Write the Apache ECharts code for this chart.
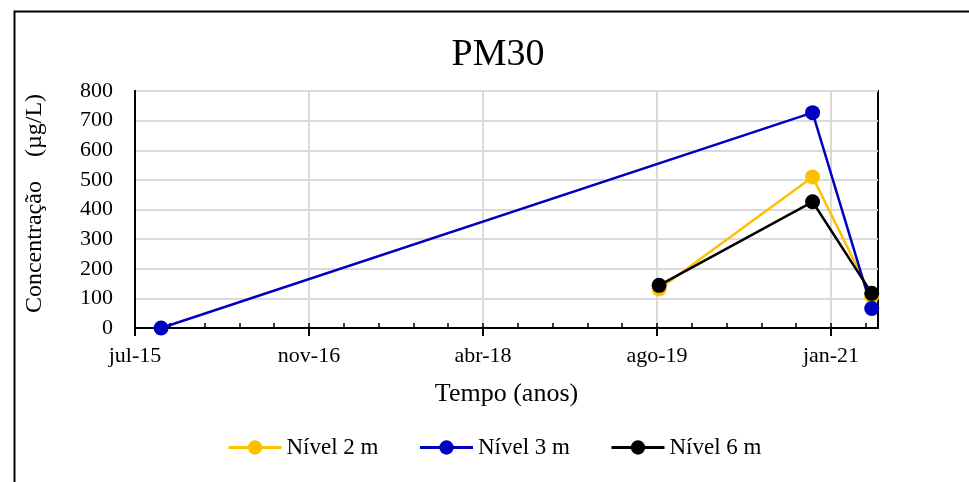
<!DOCTYPE html>
<html>
<head>
<meta charset="utf-8">
<script src="https://cdn.jsdelivr.net/npm/echarts@6/dist/echarts.min.js"></script>
<style>
html,body{margin:0;padding:0;background:#fff;}
#chart{width:969px;height:482px;}
</style>
</head>
<body>
<div id="chart"></div>
<script>
// ---- Data ----
var titleText = 'PM30';
var seriesNames = ['Nível 2 m', 'Nível 3 m', 'Nível 6 m'];
var dates2 = ['2019-08-30', '2020-11-13', '2021-05-02'];
var values2 = [132, 510, 107];
var dates3 = ['2015-09-29', '2020-11-13', '2021-05-02'];
var values3 = [0, 727, 66];
var dates6 = ['2019-08-30', '2020-11-13', '2021-05-02'];
var values6 = [144, 426, 117];
var axisStartDate = '2015-07-16';
var axisEndDate = '2021-05-20';
var majorStepDays = 500;
var minorStepDays = 100;
var monthNames = ['jan','fev','mar','abr','mai','jun','jul','ago','set','out','nov','dez'];

// ---- Helpers ----
var DAY = 86400000;
var t0 = Date.parse(axisStartDate + 'T00:00:00Z');
function dayOffset(d) { return Math.round((Date.parse(d + 'T00:00:00Z') - t0) / DAY); }
function pairs(ds, vs) { return ds.map(function (d, i) { return [dayOffset(d), vs[i]]; }); }
var xMax = dayOffset(axisEndDate);
var majorTicks = [], minorTicks = [];
for (var v = 0; v <= xMax; v += majorStepDays) majorTicks.push(v);
for (var m = 0; m <= xMax; m += minorStepDays) minorTicks.push(m);
function fmt(v) {
  var d = new Date(t0 + v * DAY);
  var yy = String(d.getUTCFullYear()).slice(2);
  return monthNames[d.getUTCMonth()] + '-' + yy;
}

var FONT = '"Liberation Serif", "Times New Roman", serif';
var colors = ['#FFC000', '#0000C0', '#000000'];

var chart = echarts.init(document.getElementById('chart'), null, {renderer: 'canvas'});
var grid = {left: 135, right: 91, top: 91, bottom: 154, show: true, borderColor: '#000', borderWidth: 2, backgroundColor: 'transparent'};

function mkSeries(name, data, color) {
  return {
    name: name, type: 'line', data: data, xAxisIndex: 0, yAxisIndex: 0,
    symbol: 'circle', symbolSize: 15,
    lineStyle: {color: color, width: 2.5},
    itemStyle: {color: color},
    emphasis: {disabled: true}, animation: false
  };
}

chart.setOption({
  animation: false,
  backgroundColor: '#fff',
  title: {
    text: titleText, left: 493, top: 31, textAlign: 'center',
    textStyle: {fontFamily: FONT, fontSize: 38, fontWeight: 'normal', color: '#000'}
  },
  legend: {
    left: 227, top: 436, padding: 0, itemWidth: 53, itemHeight: 18, itemGap: 40,
    lineStyle: {width: 3},
    textStyle: {fontFamily: FONT, fontSize: 23, color: '#000'},
    data: seriesNames
  },
  grid: grid,
  xAxis: [{
    type: 'value', min: 0, max: xMax, interval: majorStepDays,
    name: 'Tempo (anos)', nameLocation: 'middle', nameGap: 53,
    nameTextStyle: {fontFamily: FONT, fontSize: 26, color: '#000'},
    axisLine: {show: true, lineStyle: {color: '#000', width: 2}},
    axisTick: {show: true, inside: false, length: 8, customValues: majorTicks, lineStyle: {color: '#000', width: 2}},
    axisLabel: {customValues: majorTicks, formatter: fmt, margin: 17, fontFamily: FONT, fontSize: 22, color: '#000'},
    splitLine: {show: true, lineStyle: {color: '#D9D9D9', width: 2}}
  }, {
    type: 'value', min: 0, max: xMax, interval: majorStepDays, position: 'bottom', gridIndex: 0,
    axisLine: {show: false},
    axisTick: {show: true, inside: true, length: 5, customValues: minorTicks, lineStyle: {color: '#000', width: 1.5}},
    axisLabel: {show: false},
    splitLine: {show: false}
  }],
  yAxis: {
    type: 'value', min: 0, max: 800, interval: 100,
    name: 'Concentração    (µg/L)', nameLocation: 'middle', nameGap: 88, nameRotate: 90,
    nameTextStyle: {fontFamily: FONT, fontSize: 24, color: '#000', padding: [0, 0, 0, 12]},
    axisLine: {show: true, lineStyle: {color: '#000', width: 2}},
    axisTick: {show: false},
    axisLabel: {margin: 22, fontFamily: FONT, fontSize: 22, color: '#000'},
    splitLine: {show: true, lineStyle: {color: '#D9D9D9', width: 2}}
  },
  graphic: [{
    type: 'rect', left: 12, top: 9, z: 100, silent: true,
    shape: {x: 0, y: 0, width: 1000, height: 600},
    style: {fill: 'none', stroke: '#000', lineWidth: 2}
  }],
  series: [
    mkSeries(seriesNames[0], pairs(dates2, values2), colors[0]),
    mkSeries(seriesNames[1], pairs(dates3, values3), colors[1]),
    mkSeries(seriesNames[2], pairs(dates6, values6), colors[2])
  ]
});
</script>
</body>
</html>
